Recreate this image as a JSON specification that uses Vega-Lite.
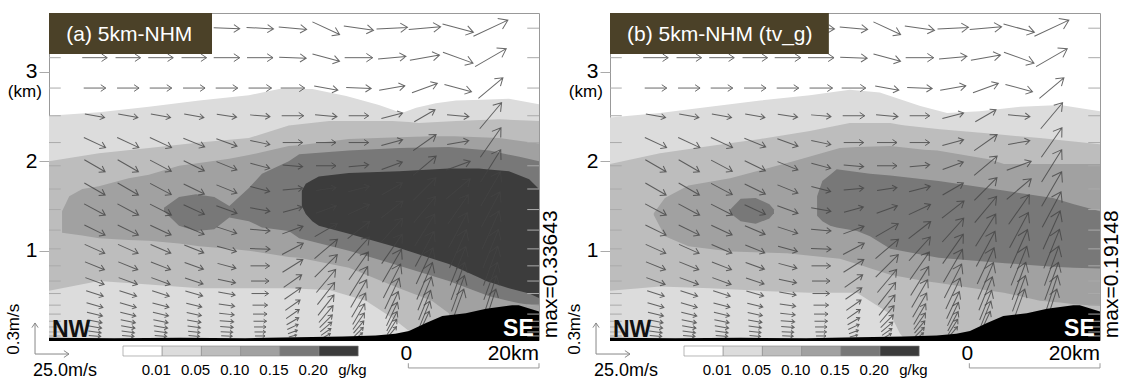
{
"$schema":"https://vega.github.io/schema/vega-lite/v6.json",
"padding":{"left":4,"top":12,"right":0,"bottom":0},
"background":"white",
"spacing":3,
"config":{"view":{"stroke":"#999","strokeWidth":1},"font":"Liberation Sans","axisX":{"disable":true},"axisY":{"tickSize":10,"tickColor":"#aaa","domain":false,"labelFontSize":21,"labelColor":"#000","labelPadding":2,"grid":false,"labelFont":"Liberation Sans"}},
"datasets":{
"w":[
{"x":7.0,"y":3.49,"d":0,"l":24},{"x":12.1,"y":3.49,"d":0,"l":24},{"x":17.1,"y":3.49,"d":0,"l":25},{"x":22.2,"y":3.49,"d":0,"l":25},{"x":27.2,"y":3.49,"d":2,"l":26},{"x":32.3,"y":3.49,"d":3,"l":27},{"x":37.3,"y":3.49,"d":5,"l":28},{"x":42.4,"y":3.49,"d":25,"l":30},{"x":47.4,"y":3.49,"d":8,"l":30},{"x":52.5,"y":3.49,"d":-3,"l":31},{"x":57.5,"y":3.49,"d":-5,"l":32},{"x":62.6,"y":3.49,"d":15,"l":32},{"x":67.6,"y":3.49,"d":-25,"l":38},
{"x":7.0,"y":3.16,"d":0,"l":25},{"x":12.1,"y":3.16,"d":0,"l":25},{"x":17.1,"y":3.16,"d":0,"l":25},{"x":22.2,"y":3.16,"d":0,"l":25},{"x":27.2,"y":3.16,"d":0,"l":26},{"x":32.3,"y":3.16,"d":0,"l":26},{"x":37.3,"y":3.16,"d":2,"l":27},{"x":42.4,"y":3.16,"d":15,"l":28},{"x":47.4,"y":3.16,"d":0,"l":28},{"x":52.5,"y":3.16,"d":-5,"l":28},{"x":57.5,"y":3.16,"d":-10,"l":30},{"x":62.6,"y":3.16,"d":20,"l":32},{"x":67.6,"y":3.16,"d":-30,"l":36},
{"x":7.0,"y":2.82,"d":0,"l":22},{"x":12.1,"y":2.82,"d":0,"l":22},{"x":17.1,"y":2.82,"d":0,"l":22},{"x":22.2,"y":2.82,"d":0,"l":22},{"x":27.2,"y":2.82,"d":0,"l":22},{"x":32.3,"y":2.82,"d":0,"l":23},{"x":37.3,"y":2.82,"d":0,"l":24},{"x":42.4,"y":2.82,"d":10,"l":24},{"x":47.4,"y":2.82,"d":2,"l":25},{"x":52.5,"y":2.82,"d":-10,"l":26},{"x":57.5,"y":2.82,"d":-20,"l":27},{"x":62.6,"y":2.82,"d":15,"l":28},{"x":67.6,"y":2.82,"d":-40,"l":32},
{"x":7.0,"y":2.51,"d":10,"l":20},{"x":12.1,"y":2.51,"d":10,"l":20},{"x":17.1,"y":2.51,"d":10,"l":20},{"x":22.2,"y":2.51,"d":10,"l":20},{"x":27.2,"y":2.51,"d":8,"l":20},{"x":32.3,"y":2.51,"d":5,"l":20},{"x":37.3,"y":2.51,"d":0,"l":22},{"x":42.4,"y":2.51,"d":5,"l":22},{"x":47.4,"y":2.51,"d":0,"l":20},{"x":52.5,"y":2.51,"d":-15,"l":22},{"x":57.5,"y":2.51,"d":-30,"l":24},{"x":62.6,"y":2.51,"d":5,"l":22},{"x":67.6,"y":2.51,"d":-50,"l":34},
{"x":7.0,"y":2.21,"d":25,"l":24},{"x":12.1,"y":2.21,"d":25,"l":24},{"x":17.1,"y":2.21,"d":25,"l":24},{"x":22.2,"y":2.21,"d":22,"l":23},{"x":27.2,"y":2.21,"d":20,"l":22},{"x":32.3,"y":2.21,"d":12,"l":20},{"x":37.3,"y":2.21,"d":0,"l":20},{"x":42.4,"y":2.21,"d":0,"l":20},{"x":47.4,"y":2.21,"d":0,"l":20},{"x":52.5,"y":2.21,"d":-15,"l":22},{"x":57.5,"y":2.21,"d":-35,"l":28},{"x":62.6,"y":2.21,"d":-10,"l":22},{"x":67.6,"y":2.21,"d":-55,"l":36},
{"x":7.0,"y":1.95,"d":30,"l":24},{"x":12.1,"y":1.95,"d":30,"l":24},{"x":17.1,"y":1.95,"d":28,"l":24},{"x":22.2,"y":1.95,"d":26,"l":23},{"x":27.2,"y":1.95,"d":22,"l":22},{"x":32.3,"y":1.95,"d":15,"l":20},{"x":37.3,"y":1.95,"d":5,"l":20},{"x":42.4,"y":1.95,"d":0,"l":20},{"x":47.4,"y":1.95,"d":-5,"l":20},{"x":52.5,"y":1.95,"d":-20,"l":22},{"x":57.5,"y":1.95,"d":-40,"l":30},{"x":62.6,"y":1.95,"d":-20,"l":26},{"x":67.6,"y":1.95,"d":-58,"l":38},
{"x":7.0,"y":1.69,"d":30,"l":24},{"x":12.1,"y":1.69,"d":30,"l":24},{"x":17.1,"y":1.69,"d":28,"l":24},{"x":22.2,"y":1.69,"d":26,"l":23},{"x":27.2,"y":1.69,"d":22,"l":22},{"x":32.3,"y":1.69,"d":15,"l":20},{"x":37.3,"y":1.69,"d":-5,"l":20},{"x":42.4,"y":1.69,"d":-8,"l":20},{"x":47.4,"y":1.69,"d":-15,"l":22},{"x":52.5,"y":1.69,"d":-30,"l":24},{"x":57.5,"y":1.69,"d":-45,"l":32},{"x":62.6,"y":1.69,"d":-40,"l":32},{"x":67.6,"y":1.69,"d":-60,"l":40},
{"x":7.0,"y":1.46,"d":28,"l":24},{"x":12.1,"y":1.46,"d":28,"l":24},{"x":17.1,"y":1.46,"d":27,"l":24},{"x":22.2,"y":1.46,"d":25,"l":23},{"x":27.2,"y":1.46,"d":20,"l":22},{"x":32.3,"y":1.46,"d":10,"l":20},{"x":37.3,"y":1.46,"d":-15,"l":20},{"x":42.4,"y":1.46,"d":-20,"l":22},{"x":47.4,"y":1.46,"d":-25,"l":24},{"x":52.5,"y":1.46,"d":-38,"l":28},{"x":57.5,"y":1.46,"d":-50,"l":34},{"x":62.6,"y":1.46,"d":-55,"l":36},{"x":67.6,"y":1.46,"d":-62,"l":40},
{"x":7.0,"y":1.23,"d":26,"l":23},{"x":12.1,"y":1.23,"d":26,"l":23},{"x":17.1,"y":1.23,"d":25,"l":23},{"x":22.2,"y":1.23,"d":23,"l":22},{"x":27.2,"y":1.23,"d":18,"l":21},{"x":32.3,"y":1.23,"d":5,"l":20},{"x":37.3,"y":1.23,"d":-20,"l":22},{"x":42.4,"y":1.23,"d":-30,"l":26},{"x":47.4,"y":1.23,"d":-38,"l":28},{"x":52.5,"y":1.23,"d":-48,"l":32},{"x":57.5,"y":1.23,"d":-58,"l":38},{"x":62.6,"y":1.23,"d":-62,"l":40},{"x":67.6,"y":1.23,"d":-66,"l":42},
{"x":7.0,"y":1.02,"d":24,"l":22},{"x":12.1,"y":1.02,"d":24,"l":22},{"x":17.1,"y":1.02,"d":23,"l":22},{"x":22.2,"y":1.02,"d":22,"l":21},{"x":27.2,"y":1.02,"d":15,"l":20},{"x":32.3,"y":1.02,"d":2,"l":20},{"x":37.3,"y":1.02,"d":-28,"l":24},{"x":42.4,"y":1.02,"d":-40,"l":30},{"x":47.4,"y":1.02,"d":-48,"l":32},{"x":52.5,"y":1.02,"d":-55,"l":36},{"x":57.5,"y":1.02,"d":-62,"l":40},{"x":62.6,"y":1.02,"d":-66,"l":42},{"x":67.6,"y":1.02,"d":-68,"l":42},
{"x":7.0,"y":0.83,"d":22,"l":21},{"x":12.1,"y":0.83,"d":22,"l":21},{"x":17.1,"y":0.83,"d":21,"l":21},{"x":22.2,"y":0.83,"d":20,"l":20},{"x":27.2,"y":0.83,"d":15,"l":19},{"x":32.3,"y":0.83,"d":0,"l":19},{"x":37.3,"y":0.83,"d":-32,"l":24},{"x":42.4,"y":0.83,"d":-45,"l":32},{"x":47.4,"y":0.83,"d":-55,"l":34},{"x":52.5,"y":0.83,"d":-60,"l":38},{"x":57.5,"y":0.83,"d":-65,"l":40},{"x":62.6,"y":0.83,"d":-68,"l":42},{"x":67.6,"y":0.83,"d":-70,"l":42},
{"x":7.0,"y":0.66,"d":20,"l":20},{"x":12.1,"y":0.66,"d":20,"l":20},{"x":17.1,"y":0.66,"d":20,"l":20},{"x":22.2,"y":0.66,"d":18,"l":19},{"x":27.2,"y":0.66,"d":12,"l":18},{"x":32.3,"y":0.66,"d":0,"l":18},{"x":37.3,"y":0.66,"d":-35,"l":22},{"x":42.4,"y":0.66,"d":-50,"l":30},{"x":47.4,"y":0.66,"d":-58,"l":34},{"x":52.5,"y":0.66,"d":-63,"l":38},{"x":57.5,"y":0.66,"d":-67,"l":40},{"x":62.6,"y":0.66,"d":-70,"l":40},{"x":67.6,"y":0.66,"d":-70,"l":40},
{"x":7.0,"y":0.52,"d":18,"l":18},{"x":12.1,"y":0.52,"d":18,"l":18},{"x":17.1,"y":0.52,"d":18,"l":18},{"x":22.2,"y":0.52,"d":16,"l":18},{"x":27.2,"y":0.52,"d":10,"l":17},{"x":32.3,"y":0.52,"d":0,"l":17},{"x":37.3,"y":0.52,"d":-35,"l":20},{"x":42.4,"y":0.52,"d":-52,"l":28},{"x":47.4,"y":0.52,"d":-60,"l":32},{"x":52.5,"y":0.52,"d":-65,"l":34},{"x":57.5,"y":0.52,"d":-68,"l":36},{"x":62.6,"y":0.52,"d":-70,"l":38},{"x":67.6,"y":0.52,"d":-72,"l":38},
{"x":7.0,"y":0.39,"d":16,"l":17},{"x":12.1,"y":0.39,"d":16,"l":17},{"x":17.1,"y":0.39,"d":15,"l":17},{"x":22.2,"y":0.39,"d":14,"l":16},{"x":27.2,"y":0.39,"d":8,"l":16},{"x":32.3,"y":0.39,"d":0,"l":15},{"x":37.3,"y":0.39,"d":-35,"l":18},{"x":42.4,"y":0.39,"d":-52,"l":26},{"x":47.4,"y":0.39,"d":-60,"l":28},{"x":52.5,"y":0.39,"d":-65,"l":30},{"x":57.5,"y":0.39,"d":-68,"l":32},{"x":62.6,"y":0.39,"d":-70,"l":34},{"x":67.6,"y":0.39,"d":-72,"l":34},
{"x":7.0,"y":0.29,"d":14,"l":16},{"x":12.1,"y":0.29,"d":14,"l":16},{"x":17.1,"y":0.29,"d":13,"l":16},{"x":22.2,"y":0.29,"d":12,"l":15},{"x":27.2,"y":0.29,"d":6,"l":15},{"x":32.3,"y":0.29,"d":0,"l":14},{"x":37.3,"y":0.29,"d":-35,"l":16},{"x":42.4,"y":0.29,"d":-50,"l":22},{"x":47.4,"y":0.29,"d":-60,"l":24},{"x":52.5,"y":0.29,"d":-65,"l":26},{"x":57.5,"y":0.29,"d":-68,"l":28},
{"x":7.0,"y":0.21,"d":12,"l":15},{"x":12.1,"y":0.21,"d":12,"l":15},{"x":17.1,"y":0.21,"d":12,"l":15},{"x":22.2,"y":0.21,"d":10,"l":14},{"x":27.2,"y":0.21,"d":5,"l":14},{"x":32.3,"y":0.21,"d":0,"l":13},{"x":37.3,"y":0.21,"d":-30,"l":14},{"x":42.4,"y":0.21,"d":-45,"l":18},{"x":47.4,"y":0.21,"d":-55,"l":20},{"x":52.5,"y":0.21,"d":-62,"l":22},{"x":57.5,"y":0.21,"d":-65,"l":22},
{"x":7.0,"y":0.146,"d":10,"l":14},{"x":12.1,"y":0.146,"d":10,"l":14},{"x":17.1,"y":0.146,"d":10,"l":14},{"x":22.2,"y":0.146,"d":8,"l":13},{"x":27.2,"y":0.146,"d":4,"l":13},{"x":32.3,"y":0.146,"d":0,"l":12},{"x":37.3,"y":0.146,"d":-25,"l":12},{"x":42.4,"y":0.146,"d":-40,"l":15},{"x":47.4,"y":0.146,"d":-50,"l":16},{"x":52.5,"y":0.146,"d":-58,"l":18},
{"x":7.0,"y":0.09,"d":8,"l":13},{"x":12.1,"y":0.09,"d":8,"l":13},{"x":17.1,"y":0.09,"d":8,"l":13},{"x":22.2,"y":0.09,"d":6,"l":12},{"x":27.2,"y":0.09,"d":3,"l":12},{"x":32.3,"y":0.09,"d":0,"l":11},{"x":37.3,"y":0.09,"d":-20,"l":10},{"x":42.4,"y":0.09,"d":-35,"l":12},{"x":47.4,"y":0.09,"d":-45,"l":13},{"x":52.5,"y":0.09,"d":-50,"l":14},
{"x":7.0,"y":0.045,"d":5,"l":12},{"x":12.1,"y":0.045,"d":5,"l":12},{"x":17.1,"y":0.045,"d":5,"l":12},{"x":22.2,"y":0.045,"d":5,"l":11},{"x":27.2,"y":0.045,"d":2,"l":11},{"x":32.3,"y":0.045,"d":0,"l":10},{"x":37.3,"y":0.045,"d":-15,"l":8},{"x":42.4,"y":0.045,"d":-30,"l":10},{"x":47.4,"y":0.045,"d":-40,"l":10}
],
"lv":[{"y":3.49},{"y":3.16},{"y":2.82},{"y":2.51},{"y":2.21},{"y":1.95},{"y":1.69},{"y":1.46},{"y":1.23},{"y":1.02},{"y":0.83},{"y":0.66},{"y":0.52},{"y":0.39},{"y":0.29},{"y":0.21},{"y":0.146},{"y":0.09},{"y":0.045}],
"t":[{"x":0,"h":0.025},{"x":10,"h":0.02},{"x":20,"h":0.025},{"x":30,"h":0.02},{"x":38,"h":0.03},{"x":45,"h":0.04},{"x":50,"h":0.05},{"x":53,"h":0.07},{"x":55.1,"h":0.1},{"x":57.7,"h":0.19},{"x":60.2,"h":0.27},{"x":63.8,"h":0.3},{"x":66.9,"h":0.35},{"x":70.9,"h":0.39},{"x":71.9,"h":0.39},{"x":75,"h":0.32}],
"cbar":[{"k":"b0","lab":"0.01"},{"k":"b1","lab":"0.05"},{"k":"b2","lab":"0.10"},{"k":"b3","lab":"0.15"},{"k":"b4","lab":"0.20"},{"k":"b5","lab":"g/kg"}],
"ca":[
{"v":"L1","x":0,"y":0,"y2":2.51},{"v":"L1","x":7.65,"y":0,"y2":2.55},{"v":"L1","x":15.3,"y":0,"y2":2.61},{"v":"L1","x":23,"y":0,"y2":2.68},{"v":"L1","x":30.6,"y":0,"y2":2.74},{"v":"L1","x":35.2,"y":0,"y2":2.81},{"v":"L1","x":40.3,"y":0,"y2":2.81},{"v":"L1","x":45.5,"y":0,"y2":2.73},{"v":"L1","x":50.5,"y":0,"y2":2.63},{"v":"L1","x":54,"y":0,"y2":2.54},{"v":"L1","x":56.2,"y":0,"y2":2.6},{"v":"L1","x":59.2,"y":0,"y2":2.65},{"v":"L1","x":62.3,"y":0,"y2":2.68},{"v":"L1","x":66.3,"y":0,"y2":2.69},{"v":"L1","x":70.4,"y":0,"y2":2.7},{"v":"L1","x":75,"y":0,"y2":2.64},
{"v":"L2","x":0,"y":0.55,"y2":2.0},{"v":"L2","x":7.65,"y":0.66,"y2":2.09},{"v":"L2","x":15.3,"y":0.62,"y2":2.15},{"v":"L2","x":23,"y":0.58,"y2":2.21},{"v":"L2","x":30.6,"y":0.58,"y2":2.26},{"v":"L2","x":36.7,"y":0.58,"y2":2.4},{"v":"L2","x":42.9,"y":0.56,"y2":2.45},{"v":"L2","x":48.5,"y":0.44,"y2":2.45},{"v":"L2","x":52.5,"y":0.25,"y2":2.45},{"v":"L2","x":55.1,"y":0.1,"y2":2.44},{"v":"L2","x":56.6,"y":0,"y2":2.43},{"v":"L2","x":62.3,"y":0,"y2":2.45},{"v":"L2","x":68.9,"y":0,"y2":2.47},{"v":"L2","x":75,"y":0,"y2":2.45},
{"v":"L3","x":2.0,"y":1.2,"y2":1.44},{"v":"L3","x":3.1,"y":1.19,"y2":1.61},{"v":"L3","x":5.1,"y":1.17,"y2":1.69},{"v":"L3","x":7.65,"y":1.14,"y2":1.72},{"v":"L3","x":12.2,"y":1.12,"y2":1.81},{"v":"L3","x":15.3,"y":1.11,"y2":1.85},{"v":"L3","x":19.9,"y":1.08,"y2":1.95},{"v":"L3","x":23,"y":1.05,"y2":1.98},{"v":"L3","x":27.6,"y":1.02,"y2":2.03},{"v":"L3","x":30.6,"y":1.0,"y2":2.07},{"v":"L3","x":36.7,"y":0.93,"y2":2.17},{"v":"L3","x":38.3,"y":0.92,"y2":2.18},{"v":"L3","x":45.9,"y":0.81,"y2":2.25},{"v":"L3","x":53.6,"y":0.58,"y2":2.27},{"v":"L3","x":58.6,"y":0.44,"y2":2.28},{"v":"L3","x":61.2,"y":0.3,"y2":2.28},{"v":"L3","x":62,"y":0,"y2":2.28},{"v":"L3","x":68.9,"y":0,"y2":2.26},{"v":"L3","x":75,"y":0,"y2":2.2},
{"v":"L4","x":17.6,"y":1.44,"y2":1.48},{"v":"L4","x":19.9,"y":1.28,"y2":1.6},{"v":"L4","x":22.5,"y":1.22,"y2":1.63},{"v":"L4","x":25.3,"y":1.24,"y2":1.6},{"v":"L4","x":27.6,"y":1.37,"y2":1.5},{"v":"L4","x":30.6,"y":1.33,"y2":1.7},{"v":"L4","x":32.6,"y":1.26,"y2":1.86},{"v":"L4","x":36.7,"y":1.22,"y2":2.0},{"v":"L4","x":38.3,"y":1.14,"y2":2.08},{"v":"L4","x":45.9,"y":1.0,"y2":2.12},{"v":"L4","x":53.6,"y":0.83,"y2":2.15},{"v":"L4","x":61.2,"y":0.66,"y2":2.16},{"v":"L4","x":67.4,"y":0.49,"y2":2.12},{"v":"L4","x":72,"y":0.41,"y2":2.05},{"v":"L4","x":75,"y":0.38,"y2":2.0},
{"v":"L5","x":38.7,"y":1.5,"y2":1.67},{"v":"L5","x":39.3,"y":1.41,"y2":1.75},{"v":"L5","x":40.3,"y":1.33,"y2":1.79},{"v":"L5","x":41.3,"y":1.28,"y2":1.83},{"v":"L5","x":45.9,"y":1.19,"y2":1.87},{"v":"L5","x":53.6,"y":1.03,"y2":1.89},{"v":"L5","x":61.2,"y":0.85,"y2":1.92},{"v":"L5","x":65.8,"y":0.7,"y2":1.92},{"v":"L5","x":66.9,"y":0.66,"y2":1.91},{"v":"L5","x":70.4,"y":0.58,"y2":1.89},{"v":"L5","x":73.5,"y":0.52,"y2":1.8},{"v":"L5","x":75,"y":0.47,"y2":1.69}
],
"cb":[
{"v":"L1","x":0,"y":0,"y2":2.49},{"v":"L1","x":7.65,"y":0,"y2":2.54},{"v":"L1","x":15.3,"y":0,"y2":2.61},{"v":"L1","x":23,"y":0,"y2":2.68},{"v":"L1","x":30.6,"y":0,"y2":2.74},{"v":"L1","x":36.7,"y":0,"y2":2.8},{"v":"L1","x":41.3,"y":0,"y2":2.77},{"v":"L1","x":47.5,"y":0,"y2":2.62},{"v":"L1","x":51.6,"y":0,"y2":2.54},{"v":"L1","x":56.6,"y":0,"y2":2.56},{"v":"L1","x":62.8,"y":0,"y2":2.61},{"v":"L1","x":68.9,"y":0,"y2":2.63},{"v":"L1","x":75,"y":0,"y2":2.56},
{"v":"L2","x":0,"y":0.55,"y2":1.97},{"v":"L2","x":7.65,"y":0.6,"y2":2.09},{"v":"L2","x":15.3,"y":0.58,"y2":2.17},{"v":"L2","x":23,"y":0.55,"y2":2.25},{"v":"L2","x":30.6,"y":0.53,"y2":2.34},{"v":"L2","x":36.7,"y":0.53,"y2":2.43},{"v":"L2","x":37.8,"y":0.53,"y2":2.43},{"v":"L2","x":42.9,"y":0.29,"y2":2.43},{"v":"L2","x":44.4,"y":0.07,"y2":2.41},{"v":"L2","x":45.2,"y":0,"y2":2.4},{"v":"L2","x":50.5,"y":0,"y2":2.36},{"v":"L2","x":58.1,"y":0,"y2":2.31},{"v":"L2","x":65.8,"y":0,"y2":2.26},{"v":"L2","x":75,"y":0,"y2":2.19},
{"v":"L3","x":6.7,"y":1.4,"y2":1.42},{"v":"L3","x":8.4,"y":1.16,"y2":1.59},{"v":"L3","x":12,"y":1.05,"y2":1.73},{"v":"L3","x":18.4,"y":0.99,"y2":1.81},{"v":"L3","x":27.1,"y":0.97,"y2":1.98},{"v":"L3","x":35.2,"y":0.91,"y2":2.15},{"v":"L3","x":37.8,"y":0.85,"y2":2.16},{"v":"L3","x":42.9,"y":0.73,"y2":2.17},{"v":"L3","x":48.1,"y":0.66,"y2":2.13},{"v":"L3","x":50.1,"y":0.64,"y2":2.12},{"v":"L3","x":58.2,"y":0.55,"y2":2.02},{"v":"L3","x":60.3,"y":0.53,"y2":1.97},{"v":"L3","x":65.8,"y":0.44,"y2":1.97},{"v":"L3","x":68.9,"y":0.42,"y2":1.97},{"v":"L3","x":71,"y":0.4,"y2":1.97},{"v":"L3","x":75,"y":0.38,"y2":1.97},
{"v":"L4","g":1,"x":18.4,"y":1.42,"y2":1.46},{"v":"L4","g":1,"x":20,"y":1.33,"y2":1.58},{"v":"L4","g":1,"x":22.3,"y":1.3,"y2":1.59},{"v":"L4","g":1,"x":24.4,"y":1.36,"y2":1.52},{"v":"L4","g":1,"x":25.1,"y":1.42,"y2":1.46},
{"v":"L4","g":2,"x":31.7,"y":1.39,"y2":1.61},{"v":"L4","g":2,"x":32.5,"y":1.33,"y2":1.78},{"v":"L4","g":2,"x":33.7,"y":1.28,"y2":1.85},{"v":"L4","g":2,"x":34.7,"y":1.26,"y2":1.91},{"v":"L4","g":2,"x":37.8,"y":1.22,"y2":1.88},{"v":"L4","g":2,"x":39.8,"y":1.16,"y2":1.86},{"v":"L4","g":2,"x":42.9,"y":1.02,"y2":1.84},{"v":"L4","g":2,"x":50.3,"y":0.92,"y2":1.78},{"v":"L4","g":2,"x":60.5,"y":0.86,"y2":1.67},{"v":"L4","g":2,"x":67.8,"y":0.82,"y2":1.59},{"v":"L4","g":2,"x":71,"y":0.81,"y2":1.52},{"v":"L4","g":2,"x":75,"y":0.8,"y2":1.44}
]
},
"hconcat":[
{"width":490,"height":327,
"layer":[
{"layer":[
{"data":{"name":"ca"},"transform":[{"filter":"datum.v=='L1'"}],"mark":{"type":"area","color":"#dcdcdc","orient":"vertical"},"encoding":{"x":{"field":"x","type":"quantitative","scale":{"domain":[0,75],"nice":false,"zero":false}},"y":{"field":"y","type":"quantitative","title":null,"scale":{"domain":[0,3.66],"nice":false,"zero":false},"axis":{"values":[1,2,3],"format":"d","title":null}},"y2":{"field":"y2"}}},
{"data":{"name":"ca"},"transform":[{"filter":"datum.v=='L2'"}],"mark":{"type":"area","color":"#bdbdbd","orient":"vertical"},"encoding":{"x":{"field":"x","type":"quantitative"},"y":{"field":"y","type":"quantitative","title":null},"y2":{"field":"y2"}}},
{"data":{"name":"ca"},"transform":[{"filter":"datum.v=='L3'"}],"mark":{"type":"area","color":"#a1a1a1","orient":"vertical"},"encoding":{"x":{"field":"x","type":"quantitative"},"y":{"field":"y","type":"quantitative","title":null},"y2":{"field":"y2"}}},
{"data":{"name":"ca"},"transform":[{"filter":"datum.v=='L4'"}],"mark":{"type":"area","color":"#787878","orient":"vertical"},"encoding":{"x":{"field":"x","type":"quantitative"},"y":{"field":"y","type":"quantitative","title":null},"y2":{"field":"y2"}}},
{"data":{"name":"ca"},"transform":[{"filter":"datum.v=='L5'"}],"mark":{"type":"area","color":"#3c3c3c","orient":"vertical"},"encoding":{"x":{"field":"x","type":"quantitative"},"y":{"field":"y","type":"quantitative","title":null},"y2":{"field":"y2"}}},
{"data":{"name":"w"},"mark":{"type":"point","shape":"M-1,0L1,0M0.55,-0.3L1,0L0.55,0.3","filled":false,"stroke":"#444","strokeWidth":1,"opacity":0.8},"encoding":{"x":{"field":"x","type":"quantitative"},"y":{"field":"y","type":"quantitative","title":null},"angle":{"field":"d","type":"quantitative","scale":null},"size":{"field":"l","type":"quantitative","scale":{"type":"pow","exponent":2,"domain":[0,50],"range":[0,2500]},"legend":null}}},
{"data":{"name":"t"},"mark":{"type":"area","color":"#000","orient":"vertical"},"encoding":{"x":{"field":"x","type":"quantitative"},"y":{"field":"h","type":"quantitative","title":null},"y2":{"datum":-0.012}}},
{"data":{"name":"lv"},"mark":{"type":"rule","color":"#aaa"},"encoding":{"y":{"field":"y","type":"quantitative","title":null},"x":{"datum":0},"x2":{"datum":1.8}}},
{"data":{"name":"lv"},"mark":{"type":"rule","color":"#aaa"},"encoding":{"y":{"field":"y","type":"quantitative","title":null},"x":{"datum":73.2},"x2":{"datum":75}}},
{"data":{"values":[{}]},"mark":{"type":"rect","color":"#4b4128"},"encoding":{"x":{"datum":0},"x2":{"datum":24.95},"y":{"datum":3.2},"y2":{"datum":3.66}}},
{"data":{"values":[{}]},"mark":{"type":"text","text":"(a) 5km-NHM","color":"#fff","fontSize":21,"align":"center","baseline":"middle"},"encoding":{"x":{"datum":12.3},"y":{"datum":3.41}}},
{"data":{"values":[{}]},"mark":{"type":"text","text":"NW","color":"#111","fontSize":23,"fontWeight":"bold","align":"left","baseline":"alphabetic"},"encoding":{"x":{"datum":0.45},"y":{"datum":0.035}}},
{"data":{"values":[{}]},"mark":{"type":"text","text":"SE","color":"#fff","fontSize":23,"fontWeight":"bold","align":"right","baseline":"alphabetic"},"encoding":{"x":{"datum":74.2},"y":{"datum":0.045}}},
{"data":{"values":[{}]},"mark":{"type":"text","text":"(km)","fontSize":17,"align":"center","baseline":"middle"},"encoding":{"x":{"datum":-3.7},"y":{"datum":2.78}}},
{"data":{"values":[{}]},"mark":{"type":"text","text":"max=0.33643","fontSize":21,"angle":270,"align":"left","baseline":"middle"},"encoding":{"x":{"datum":76.9},"y":{"datum":0.02}}},
{"data":{"values":[{}]},"mark":{"type":"text","text":"0.3m/s","fontSize":17,"angle":270,"align":"center","baseline":"middle"},"encoding":{"x":{"datum":-5.36},"y":{"datum":0.12}}},
{"data":{"values":[{}]},"mark":{"type":"text","text":"25.0m/s","fontSize":18,"align":"center","baseline":"middle"},"encoding":{"x":{"datum":2.45},"y":{"datum":-0.347}}},
{"data":{"values":[{}]},"mark":{"type":"point","shape":"M-1,0L1,0M0.7,-0.2L1,0L0.7,0.2","filled":false,"stroke":"#888","strokeWidth":1,"opacity":1,"size":1156,"angle":0},"encoding":{"x":{"datum":0.46},"y":{"datum":-0.157}}},
{"data":{"values":[{}]},"mark":{"type":"point","shape":"M-1,0L1,0M0.7,-0.2L1,0L0.7,0.2","filled":false,"stroke":"#888","strokeWidth":1,"opacity":1,"size":961,"angle":270},"encoding":{"x":{"datum":-2.14},"y":{"datum":0.017}}},
{"data":{"values":[{}]},"mark":{"type":"rule","color":"#999"},"encoding":{"x":{"datum":55},"x2":{"datum":75},"y":{"datum":-0.313}}},
{"data":{"values":[{}]},"mark":{"type":"rule","color":"#999"},"encoding":{"x":{"datum":55},"y":{"datum":-0.313},"y2":{"datum":-0.26}}},
{"data":{"values":[{}]},"mark":{"type":"rule","color":"#999"},"encoding":{"x":{"datum":75},"y":{"datum":-0.313},"y2":{"datum":-0.26}}},
{"data":{"values":[{}]},"mark":{"type":"text","text":"0","fontSize":21,"align":"center","baseline":"middle"},"encoding":{"x":{"datum":54.7},"y":{"datum":-0.157}}},
{"data":{"values":[{}]},"mark":{"type":"text","text":"20km","fontSize":21,"align":"right","baseline":"middle"},"encoding":{"x":{"datum":75},"y":{"datum":-0.157}}}
]},
{"layer":[
{"data":{"name":"cbar"},"mark":{"type":"rect","stroke":"#888","strokeWidth":0.6},"encoding":{"x":{"field":"k","type":"nominal","scale":{"type":"band","domain":["p0","b0","b1","b2","b3","b4","b5","q0","q1","q2","q3"],"paddingInner":0,"paddingOuter":0.75,"align":0.592}},"y":{"datum":-0.067},"y2":{"datum":-0.179},"fill":{"field":"k","type":"nominal","scale":{"domain":["b0","b1","b2","b3","b4","b5"],"range":["#ffffff","#dcdcdc","#bdbdbd","#a1a1a1","#787878","#3c3c3c"]},"legend":null}}},
{"data":{"name":"cbar"},"mark":{"type":"text","fontSize":15,"baseline":"middle","align":"center"},"encoding":{"x":{"field":"k","type":"nominal","bandPosition":0.85},"y":{"datum":-0.336},"text":{"field":"lab"}}}
]}
],
"resolve":{"scale":{"x":"independent"}}
},
{"width":490,"height":327,
"layer":[
{"layer":[
{"data":{"name":"cb"},"transform":[{"filter":"datum.v=='L1'"}],"mark":{"type":"area","color":"#dcdcdc","orient":"vertical"},"encoding":{"x":{"field":"x","type":"quantitative","scale":{"domain":[0,75],"nice":false,"zero":false}},"y":{"field":"y","type":"quantitative","title":null,"scale":{"domain":[0,3.66],"nice":false,"zero":false},"axis":{"values":[1,2,3],"format":"d","title":null}},"y2":{"field":"y2"}}},
{"data":{"name":"cb"},"transform":[{"filter":"datum.v=='L2'"}],"mark":{"type":"area","color":"#bdbdbd","orient":"vertical"},"encoding":{"x":{"field":"x","type":"quantitative"},"y":{"field":"y","type":"quantitative","title":null},"y2":{"field":"y2"}}},
{"data":{"name":"cb"},"transform":[{"filter":"datum.v=='L3'"}],"mark":{"type":"area","color":"#a1a1a1","orient":"vertical"},"encoding":{"x":{"field":"x","type":"quantitative"},"y":{"field":"y","type":"quantitative","title":null},"y2":{"field":"y2"}}},
{"data":{"name":"cb"},"transform":[{"filter":"datum.v=='L4'"}],"mark":{"type":"area","color":"#787878","orient":"vertical"},"encoding":{"x":{"field":"x","type":"quantitative"},"y":{"field":"y","type":"quantitative","title":null},"y2":{"field":"y2"},"detail":{"field":"g"}}},
{"data":{"name":"w"},"mark":{"type":"point","shape":"M-1,0L1,0M0.55,-0.3L1,0L0.55,0.3","filled":false,"stroke":"#444","strokeWidth":1,"opacity":0.8},"encoding":{"x":{"field":"x","type":"quantitative"},"y":{"field":"y","type":"quantitative","title":null},"angle":{"field":"d","type":"quantitative","scale":null},"size":{"field":"l","type":"quantitative","scale":{"type":"pow","exponent":2,"domain":[0,50],"range":[0,2500]},"legend":null}}},
{"data":{"name":"t"},"mark":{"type":"area","color":"#000","orient":"vertical"},"encoding":{"x":{"field":"x","type":"quantitative"},"y":{"field":"h","type":"quantitative","title":null},"y2":{"datum":-0.012}}},
{"data":{"name":"lv"},"mark":{"type":"rule","color":"#aaa"},"encoding":{"y":{"field":"y","type":"quantitative","title":null},"x":{"datum":0},"x2":{"datum":1.8}}},
{"data":{"name":"lv"},"mark":{"type":"rule","color":"#aaa"},"encoding":{"y":{"field":"y","type":"quantitative","title":null},"x":{"datum":73.2},"x2":{"datum":75}}},
{"data":{"values":[{}]},"mark":{"type":"rect","color":"#4b4128"},"encoding":{"x":{"datum":0},"x2":{"datum":33.5},"y":{"datum":3.2},"y2":{"datum":3.66}}},
{"data":{"values":[{}]},"mark":{"type":"text","text":"(b) 5km-NHM (tv_g)","color":"#fff","fontSize":21,"align":"center","baseline":"middle"},"encoding":{"x":{"datum":16.8},"y":{"datum":3.41}}},
{"data":{"values":[{}]},"mark":{"type":"text","text":"NW","color":"#111","fontSize":23,"fontWeight":"bold","align":"left","baseline":"alphabetic"},"encoding":{"x":{"datum":0.45},"y":{"datum":0.035}}},
{"data":{"values":[{}]},"mark":{"type":"text","text":"SE","color":"#fff","fontSize":23,"fontWeight":"bold","align":"right","baseline":"alphabetic"},"encoding":{"x":{"datum":74.2},"y":{"datum":0.045}}},
{"data":{"values":[{}]},"mark":{"type":"text","text":"(km)","fontSize":17,"align":"center","baseline":"middle"},"encoding":{"x":{"datum":-3.7},"y":{"datum":2.78}}},
{"data":{"values":[{}]},"mark":{"type":"text","text":"max=0.19148","fontSize":21,"angle":270,"align":"left","baseline":"middle"},"encoding":{"x":{"datum":76.9},"y":{"datum":0.02}}},
{"data":{"values":[{}]},"mark":{"type":"text","text":"0.3m/s","fontSize":17,"angle":270,"align":"center","baseline":"middle"},"encoding":{"x":{"datum":-5.36},"y":{"datum":0.12}}},
{"data":{"values":[{}]},"mark":{"type":"text","text":"25.0m/s","fontSize":18,"align":"center","baseline":"middle"},"encoding":{"x":{"datum":2.45},"y":{"datum":-0.347}}},
{"data":{"values":[{}]},"mark":{"type":"point","shape":"M-1,0L1,0M0.7,-0.2L1,0L0.7,0.2","filled":false,"stroke":"#888","strokeWidth":1,"opacity":1,"size":1156,"angle":0},"encoding":{"x":{"datum":0.46},"y":{"datum":-0.157}}},
{"data":{"values":[{}]},"mark":{"type":"point","shape":"M-1,0L1,0M0.7,-0.2L1,0L0.7,0.2","filled":false,"stroke":"#888","strokeWidth":1,"opacity":1,"size":961,"angle":270},"encoding":{"x":{"datum":-2.14},"y":{"datum":0.017}}},
{"data":{"values":[{}]},"mark":{"type":"rule","color":"#999"},"encoding":{"x":{"datum":55},"x2":{"datum":75},"y":{"datum":-0.313}}},
{"data":{"values":[{}]},"mark":{"type":"rule","color":"#999"},"encoding":{"x":{"datum":55},"y":{"datum":-0.313},"y2":{"datum":-0.26}}},
{"data":{"values":[{}]},"mark":{"type":"rule","color":"#999"},"encoding":{"x":{"datum":75},"y":{"datum":-0.313},"y2":{"datum":-0.26}}},
{"data":{"values":[{}]},"mark":{"type":"text","text":"0","fontSize":21,"align":"center","baseline":"middle"},"encoding":{"x":{"datum":54.7},"y":{"datum":-0.157}}},
{"data":{"values":[{}]},"mark":{"type":"text","text":"20km","fontSize":21,"align":"right","baseline":"middle"},"encoding":{"x":{"datum":75},"y":{"datum":-0.157}}}
]},
{"layer":[
{"data":{"name":"cbar"},"mark":{"type":"rect","stroke":"#888","strokeWidth":0.6},"encoding":{"x":{"field":"k","type":"nominal","scale":{"type":"band","domain":["p0","b0","b1","b2","b3","b4","b5","q0","q1","q2","q3"],"paddingInner":0,"paddingOuter":0.75,"align":0.592}},"y":{"datum":-0.067},"y2":{"datum":-0.179},"fill":{"field":"k","type":"nominal","scale":{"domain":["b0","b1","b2","b3","b4","b5"],"range":["#ffffff","#dcdcdc","#bdbdbd","#a1a1a1","#787878","#3c3c3c"]},"legend":null}}},
{"data":{"name":"cbar"},"mark":{"type":"text","fontSize":15,"baseline":"middle","align":"center"},"encoding":{"x":{"field":"k","type":"nominal","bandPosition":0.85},"y":{"datum":-0.336},"text":{"field":"lab"}}}
]}
],
"resolve":{"scale":{"x":"independent"}}
}
]
}
